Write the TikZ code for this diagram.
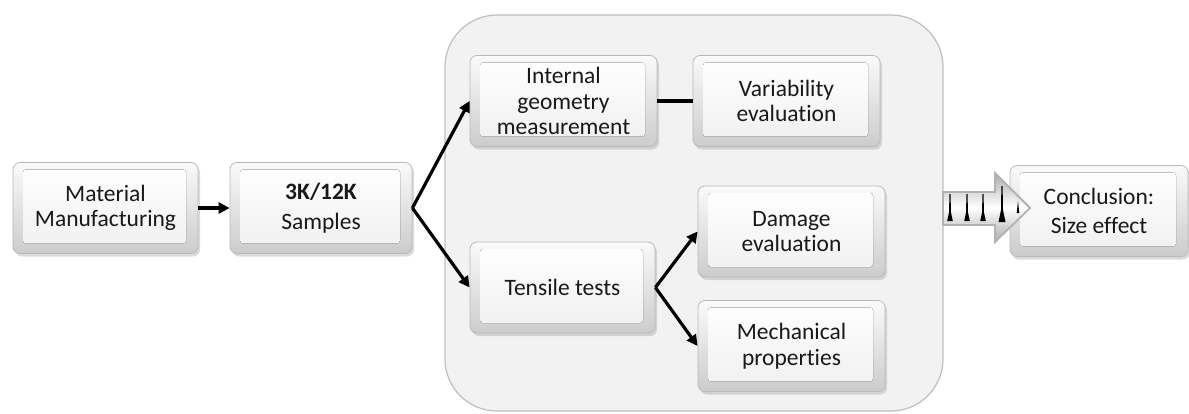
\documentclass[tikz,border=0pt]{standalone}
\usepackage{fontspec}
\setmainfont{Carlito}[Ligatures=NoCommon]
\usetikzlibrary{shadows,arrows.meta,calc}

\begin{document}
\begin{tikzpicture}[x=1pt,y=-1pt,
  txt/.style={font=\fontsize{23.5}{25.5}\selectfont, text=black!90, align=center},
  stepbox/.style={txt, rounded corners=7pt, draw=gray!55, line width=0.8pt,
    minimum width=185pt, minimum height=91pt, inner sep=0pt,
    top color=gray!4, bottom color=gray!40,
    drop shadow={shadow xshift=2pt, shadow yshift=-3pt, opacity=0.35, fill=gray!80},
    path picture={
      \fill[rounded corners=3pt, top color=white, bottom color=gray!12]
        ($(path picture bounding box.north west)+(10pt,-7pt)$) rectangle
        ($(path picture bounding box.south east)+(-12pt,10pt)$);
    }},
  flow/.style={line width=3.2pt, draw=black, -{Triangle[length=11pt,width=11pt]}},
  link/.style={line width=4pt, draw=black},
  spike/.style={fill=black}
]
\useasboundingbox (0,0) rectangle (1189,413);

% grouping panel for the analyses
\draw[fill=gray!10, draw=gray!50, line width=1.2pt, rounded corners=52pt]
  (445,15) rectangle (943,411);

% process steps
\node[stepbox] (mm)    at (105.5,208) {Material\\Manufacturing};
\node[stepbox, minimum width=182pt] (samp)  at (321,208) {\textbf{3K/12K}\\[5pt]Samples};
\node[stepbox, minimum width=187pt] (igm)   at (563.5,101) {Internal\\geometry\\measurement};
\node[stepbox, minimum width=187pt] (var)   at (786.5,101) {Variability\\evaluation};
\node[stepbox] (tens)  at (562.5,287.5) {Tensile tests};
\node[stepbox, minimum width=187pt] (dmg)   at (791.5,231.5) {Damage\\evaluation};
\node[stepbox, minimum width=187pt] (mech)  at (791.5,346) {Mechanical\\properties};
\node[stepbox, minimum width=178pt] (concl) at (1099,211) {Conclusion:\\[3pt]Size effect};

% connectors
\draw[flow] (mm.east) -- (samp.west);
\draw[flow] (samp.east) -- (igm.west);
\draw[flow] (samp.east) -- (tens.west);
\draw[link] (igm.east) -- (var.west);
\draw[flow] (tens.east) -- (dmg.west);
\draw[flow] (tens.east) -- (mech.west);

% block arrow from the panel to the conclusion
\coordinate (ba) at (943,192);
\draw[draw=gray!60, line width=1.8pt, top color=gray!65, bottom color=gray!65, middle color=white]
  (ba) -- (995,192) -- (995,173) -- (1030,208) -- (995,242) -- (995,225) -- (943,225) -- cycle;
\foreach \px in {950,967,983} {
  \fill[spike] (\px-0.6,194) -- (\px+0.6,194) -- (\px+0.9,212) -- (\px+2.8,221) -- (\px-2.8,221) -- (\px-0.9,212) -- cycle;
}
\fill[spike] (1001.4,186) -- (1002.6,186) -- (1003,210) -- (1005.5,222) -- (998.5,222) -- (1001,210) -- cycle;
\fill[spike] (1018,201) -- (1019.3,213) -- (1016.7,213) -- cycle;
\end{tikzpicture}
\end{document}
